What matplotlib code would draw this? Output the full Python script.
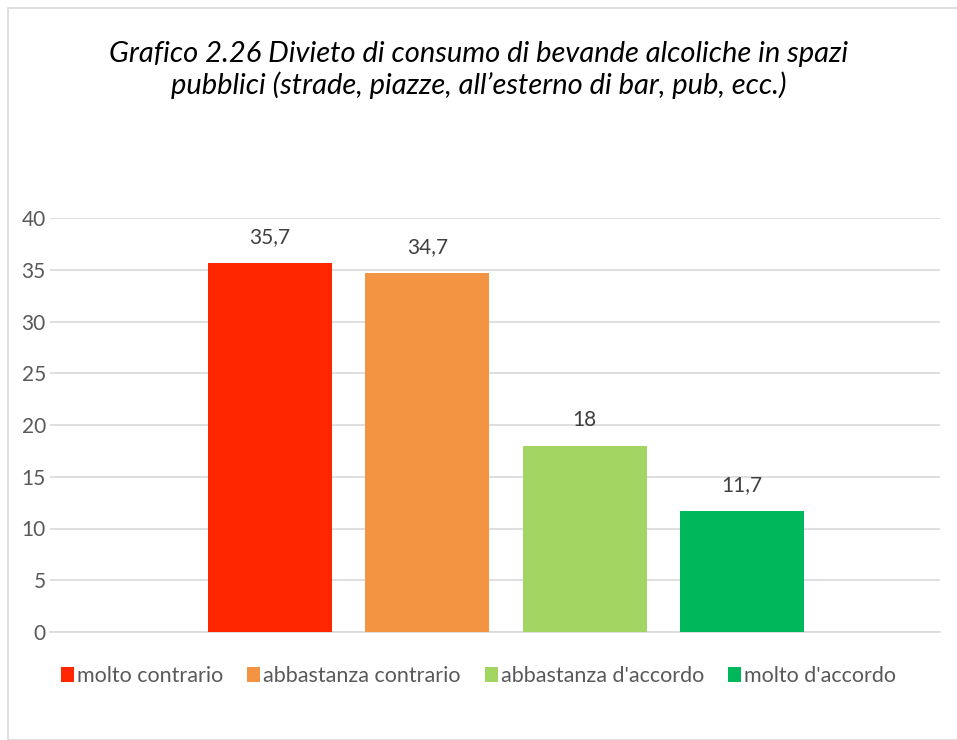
import matplotlib.pyplot as plt
from matplotlib.patches import Rectangle

categories = ["molto contrario", "abbastanza contrario", "abbastanza d'accordo", "molto d'accordo"]
values = [35.7, 34.7, 18, 11.7]
labels = ["35,7", "34,7", "18", "11,7"]
colors = ["#FF2600", "#F29441", "#A2D562", "#00B85C"]
yticks = [0, 5, 10, 15, 20, 25, 30, 35, 40]

plt.rcParams['font.family'] = ['Lato', 'DejaVu Sans']

fig = plt.figure(figsize=(9.57, 7.40), dpi=100)
ax = fig.add_axes([50/957, 1 - 632/740, 890/957, 414/740])

x = list(range(len(values)))
bars = ax.bar(x, values, width=0.79, color=colors, label=categories, zorder=3)
for xi, v, t in zip(x, values, labels):
    ax.text(xi, v + 1.5, t, ha='center', va='bottom', fontsize=15, color='#404040')

ax.set_ylim(0, 40)
ax.set_xlim(-1.399, 4.259)
ax.set_yticks(yticks)
ax.set_yticklabels([str(t) for t in yticks], fontsize=15, color='#595959')
ax.set_xticks([])
ax.tick_params(axis='y', length=0, pad=3)
ax.grid(axis='y', color='#D9D9D9', lw=1.2, zorder=0)
for s in ['top', 'right', 'left']:
    ax.spines[s].set_visible(False)
ax.spines['bottom'].set_color('#D9D9D9')
ax.spines['bottom'].set_linewidth(1.2)

fig.text(0.5, 1 - 70/740, "Grafico 2.26 Divieto di consumo di bevande alcoliche in spazi\npubblici (strade, piazze, all\u2019esterno di bar, pub, ecc.)",
         ha='center', va='center', fontsize=21, style='italic', color='#000000', linespacing=1.15)

fig.legend(handles=bars, labels=categories, loc='center', bbox_to_anchor=(0.5, 1 - 676/740),
           ncol=4, frameon=False, fontsize=15.5, handlelength=0.6, handleheight=0.7,
           handletextpad=0.15, columnspacing=1.1, labelcolor='#595959')

fig.patches.append(Rectangle((8/957, 0), 1, 1 - 8/740, transform=fig.transFigure,
                             fill=False, edgecolor='#D9D9D9', lw=1.2))

fig.savefig("out.png", dpi=100)
